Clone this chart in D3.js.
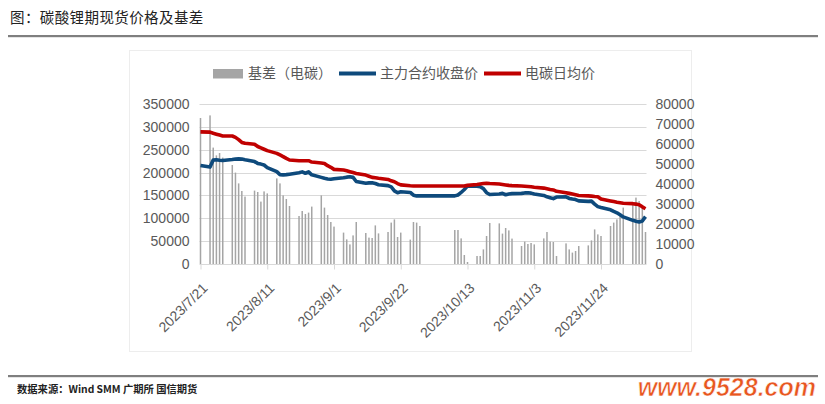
<!DOCTYPE html>
<html>
<head>
<meta charset="utf-8">
<script src="https://cdn.jsdelivr.net/npm/d3@7"></script>
<style>
  body { margin: 0; background: #fff; }
  text { font-family: "Liberation Sans", Arial, sans-serif; }
  .cjk { font-family: "Noto Sans CJK SC", sans-serif; }
</style>
</head>
<body>
<div id="chart"></div>
<script>
// trading days
var dates = [
  "2023-07-21","2023-07-24","2023-07-25","2023-07-26","2023-07-27","2023-07-28","2023-07-31",
  "2023-08-01","2023-08-02","2023-08-03","2023-08-04","2023-08-07","2023-08-08","2023-08-09","2023-08-10","2023-08-11",
  "2023-08-14","2023-08-15","2023-08-16","2023-08-17","2023-08-18","2023-08-21","2023-08-22","2023-08-23","2023-08-24","2023-08-25",
  "2023-08-28","2023-08-29","2023-08-30","2023-08-31",
  "2023-09-01","2023-09-04","2023-09-05","2023-09-06","2023-09-07","2023-09-08","2023-09-11","2023-09-12","2023-09-13","2023-09-14","2023-09-15",
  "2023-09-18","2023-09-19","2023-09-20","2023-09-21","2023-09-22","2023-09-25","2023-09-26","2023-09-27","2023-09-28",
  "2023-10-09","2023-10-10","2023-10-11","2023-10-12","2023-10-13","2023-10-16","2023-10-17","2023-10-18","2023-10-19","2023-10-20",
  "2023-10-23","2023-10-24","2023-10-25","2023-10-26","2023-10-27","2023-10-30","2023-10-31",
  "2023-11-01","2023-11-02","2023-11-03","2023-11-06","2023-11-07","2023-11-08","2023-11-09","2023-11-10",
  "2023-11-13","2023-11-14","2023-11-15","2023-11-16","2023-11-17","2023-11-20","2023-11-21","2023-11-22","2023-11-23","2023-11-24",
  "2023-11-27","2023-11-28","2023-11-29","2023-11-30",
  "2023-12-01","2023-12-04","2023-12-05","2023-12-06","2023-12-07","2023-12-08"
];

// 电碳日均价 (left axis)
var spotAvg = [
  289000,288500,286000,284000,282000,280000,280000,
  277000,272000,266000,264000,262000,257000,254000,251000,248000,
  242000,238500,235000,231000,227500,226000,226000,226000,226000,223000,
  221000,220000,215000,211500,
  207000,205500,204000,202000,200000,198000,194500,192000,189500,188500,187500,
  185000,182000,180000,176000,173000,171000,170500,170500,170500,
  170500,170500,170500,170500,172000,174000,175000,176000,176500,176000,
  175000,174000,173000,172000,171500,170500,170000,
  169500,169000,168000,166000,164500,163000,162000,159000,
  156000,154500,153000,151500,150000,149000,148500,147500,147000,142000,
  138000,136500,135000,134000,
  133000,132000,131000,129500,125000,121000
];

// 主力合约收盘价 (left axis)
var futClose = [
  215500,212000,227500,228000,227000,226500,228500,
  229500,230000,229500,228000,224000,220000,218500,216500,211000,
  202000,195500,195000,195500,196500,199500,201500,198500,201500,195000,
  189500,187500,186000,185500,
  186500,188500,190000,191000,189500,180500,176500,177500,177500,176000,173500,
  171500,168500,160000,156000,158000,156500,150500,149000,149000,
  149000,151000,156500,163000,170500,170000,169000,165000,156000,152000,
  153000,154500,151500,153000,154000,154500,155500,
  156000,155000,153000,150000,147000,145000,143000,146500,
  147000,143500,142000,141000,138000,137000,137500,131000,125500,123500,
  118500,115000,112000,107500,
  103000,95500,93500,92000,94000,103500
];

// 基差（电碳） (right axis)
var basis = [
  73000,74300,58200,54300,55500,53200,49500,
  45700,40300,36500,33700,36700,36000,31200,36300,35300,
  42800,40300,34300,32500,29000,24000,26500,25000,25700,28700,
  34300,28200,24500,21000,
  18700,15700,12300,9800,14300,21000,15500,13200,13000,19300,15300,
  16000,20700,22300,13500,15700,12200,21000,20700,19000,
  17000,17000,12800,4500,1000,4000,4000,7300,14000,20500,
  20300,15200,18000,16800,12700,9000,11200,
  10000,10500,9800,12800,16000,11200,11000,4000,
  10300,7300,5700,6500,9000,9300,11800,17300,14800,14000,
  19000,20700,22300,24300,
  28200,30700,33200,31500,29000,16000
];

var leftTicks = [0, 50000, 100000, 150000, 200000, 250000, 300000, 350000];
var rightTicks = [0, 10000, 20000, 30000, 40000, 50000, 60000, 70000, 80000];
var tickDates = ["2023-07-21","2023-08-11","2023-09-01","2023-09-22","2023-10-13","2023-11-03","2023-11-24"];

var parse = d3.timeParse("%Y-%m-%d");
var rows = dates.map(function (d, i) {
  return { date: parse(d), spot: spotAvg[i], fut: futClose[i], basis: basis[i] };
});

var width = 825, height = 404;
var plot = { left: 200.5, right: 645.5, top: 104, bottom: 264 };

var svg = d3.select("#chart").append("svg")
  .attr("width", width).attr("height", height);

// title + rules
svg.append("text").attr("class", "cjk")
  .attr("x", 10).attr("y", 23)
  .attr("font-size", 14.5).attr("fill", "#222")
  .attr("letter-spacing", 0.4)
  .text("图：碳酸锂期现货价格及基差");
svg.append("rect").attr("x", 8).attr("y", 35).attr("width", 810).attr("height", 2.2).attr("fill", "#7f7f7f");
svg.append("rect").attr("x", 8).attr("y", 375).attr("width", 810).attr("height", 2.2).attr("fill", "#7f7f7f");
svg.append("text").attr("class", "cjk")
  .attr("x", 17).attr("y", 393)
  .attr("font-size", 10.3).attr("font-weight", "bold").attr("fill", "#222")
  .text("数据来源：Wind SMM 广期所 国信期货");

// chart frame
svg.append("rect").attr("x", 129.5).attr("y", 50.5).attr("width", 562).attr("height", 301)
  .attr("fill", "none").attr("stroke", "#ededed");

var x = d3.scaleTime()
  .domain([parse(dates[0]), parse(dates[dates.length - 1])])
  .range([plot.left, plot.right]);
var yL = d3.scaleLinear().domain([0, 350000]).range([plot.bottom, plot.top]);
var yR = d3.scaleLinear().domain([0, 80000]).range([plot.bottom, plot.top]);

// gridlines
svg.append("g").selectAll("line").data(leftTicks.slice(1)).join("line")
  .attr("x1", plot.left - 1).attr("x2", plot.right + 1)
  .attr("y1", function (d) { return Math.round(yL(d)) + 0.5; })
  .attr("y2", function (d) { return Math.round(yL(d)) + 0.5; })
  .attr("stroke", "#d9d9d9").attr("stroke-width", 1);

// bars (right axis)
svg.append("g").selectAll("rect").data(rows).join("rect")
  .attr("x", function (d) { return x(d.date) - 0.75; })
  .attr("width", 1.5)
  .attr("y", function (d) { return yR(d.basis); })
  .attr("height", function (d) { return plot.bottom - yR(d.basis); })
  .attr("fill", "#a5a5a5");

// x axis
var fmt = function (d) { return d.getFullYear() + "/" + (d.getMonth() + 1) + "/" + d.getDate(); };
var xAxis = d3.axisBottom(x).tickValues(tickDates.map(parse)).tickSize(5).tickFormat(fmt);
var gx = svg.append("g").attr("transform", "translate(0," + (plot.bottom + 0.5) + ")").call(xAxis);
gx.select(".domain").attr("stroke", "#d9d9d9").attr("d", "M" + (plot.left - 1) + ",0H" + (plot.right + 1));
gx.selectAll(".tick line").attr("stroke", "#d9d9d9");
gx.selectAll(".tick text")
  .attr("font-size", 14).attr("fill", "#595959")
  .attr("text-anchor", "end")
  .attr("dy", "0.35em")
  .attr("transform", "translate(4,21) rotate(-45)")
  .attr("x", 0).attr("y", 0);

// left axis
var gl = svg.append("g").attr("transform", "translate(" + plot.left + ",0)")
  .call(d3.axisLeft(yL).tickValues(leftTicks).tickSize(0).tickPadding(11).tickFormat(d3.format("d")));
gl.select(".domain").remove();
gl.selectAll("text").attr("font-size", 14).attr("fill", "#595959");

// right axis
var gr = svg.append("g").attr("transform", "translate(" + plot.right + ",0)")
  .call(d3.axisRight(yR).tickValues(rightTicks).tickSize(0).tickPadding(10).tickFormat(d3.format("d")));
gr.select(".domain").remove();
gr.selectAll("text").attr("font-size", 14).attr("fill", "#595959");

// lines
var lineSpot = d3.line().x(function (d) { return x(d.date); }).y(function (d) { return yL(d.spot); });
var lineFut = d3.line().x(function (d) { return x(d.date); }).y(function (d) { return yL(d.fut); });

svg.append("path").datum(rows).attr("d", lineFut)
  .attr("fill", "none").attr("stroke", "#0e4a7c").attr("stroke-width", 3.6).attr("stroke-linejoin", "round");
svg.append("path").datum(rows).attr("d", lineSpot)
  .attr("fill", "none").attr("stroke", "#c00000").attr("stroke-width", 3.6).attr("stroke-linejoin", "round");

// legend
var ly = 73.5;
var legend = svg.append("g");
legend.append("rect").attr("x", 213).attr("y", 69).attr("width", 30).attr("height", 9.5).attr("fill", "#a5a5a5");
legend.append("text").attr("class", "cjk").attr("x", 248).attr("y", ly).attr("dy", "0.35em")
  .attr("font-size", 14).attr("fill", "#595959").text("基差（电碳）");
legend.append("line").attr("x1", 339).attr("x2", 376).attr("y1", ly).attr("y2", ly)
  .attr("stroke", "#0e4a7c").attr("stroke-width", 4);
legend.append("text").attr("class", "cjk").attr("x", 380).attr("y", ly).attr("dy", "0.35em")
  .attr("font-size", 14).attr("fill", "#595959").text("主力合约收盘价");
legend.append("line").attr("x1", 484).attr("x2", 521).attr("y1", ly).attr("y2", ly)
  .attr("stroke", "#c00000").attr("stroke-width", 4);
legend.append("text").attr("class", "cjk").attr("x", 525).attr("y", ly).attr("dy", "0.35em")
  .attr("font-size", 14).attr("fill", "#595959").text("电碳日均价");

// watermark
svg.append("text").attr("x", 816).attr("y", 396).attr("text-anchor", "end")
  .attr("font-size", 25).attr("font-weight", "bold").attr("font-style", "italic")
  .attr("fill", "#e8561f").attr("stroke", "#fff").attr("stroke-width", 0.6)
  .text("www.9528.com");
</script>
</body>
</html>
